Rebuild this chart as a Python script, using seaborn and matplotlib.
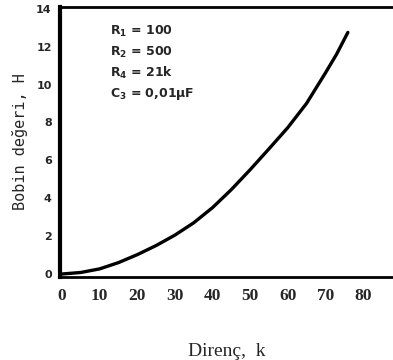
import matplotlib
matplotlib.use('Agg')
import matplotlib.pyplot as plt
import seaborn as sns
import pandas as pd

# values
resistance = [0, 5, 10, 15, 20, 25, 30, 35, 40, 45, 50, 55, 60, 65, 70, 73, 76]
inductance = [0.0, 0.08, 0.27, 0.6, 1.02, 1.5, 2.05, 2.7, 3.5, 4.45, 5.5,
              6.6, 7.72, 9.0, 10.6, 11.6, 12.75]
x_ticks = [0, 10, 20, 30, 40, 50, 60, 70, 80]
y_ticks = [0, 2, 4, 6, 8, 10, 12, 14]
params = ['R$_1$ = 100', 'R$_2$ = 500', 'R$_4$ = 21k', 'C$_3$ = 0,01$\\mu$F']

df = pd.DataFrame({'R': resistance, 'L': inductance})

sns.set_style('white')
plt.rcParams['font.family'] = ['DejaVu Sans']
plt.rcParams['mathtext.default'] = 'regular'

fig = plt.figure(figsize=(3.93, 3.6), dpi=100)
ax = fig.add_axes([0.153, 0.231, 0.847, 0.75])

sns.lineplot(data=df, x='R', y='L', color='black', linewidth=2.4, ax=ax)

ax.set_xlim(-0.5, 88)
ax.set_ylim(-0.15, 14.1)
ax.set_xticks(x_ticks)
ax.set_yticks(y_ticks)
ax.set_xticklabels([str(t) for t in x_ticks], family='Liberation Serif',
                   fontweight='bold', fontsize=12.5)
ax.set_yticklabels([str(t) for t in y_ticks], fontweight='bold', fontsize=8)
ax.tick_params(axis='both', direction='in', length=5, width=1.5, color='black')
ax.tick_params(axis='x', pad=8)
ax.tick_params(axis='y', pad=6)

for side in ['left', 'bottom', 'top']:
    ax.spines[side].set_color('black')
ax.spines['left'].set_linewidth(3)
ax.spines['bottom'].set_linewidth(2)
ax.spines['top'].set_linewidth(2)
ax.spines['right'].set_visible(False)

ax.set_ylabel('Bobin değeri, H', family='DejaVu Sans Mono', fontsize=11, labelpad=6)
ax.set_xlabel('Direnç,  k', family='Liberation Serif', fontsize=14, labelpad=28)

ax.text(0.15, 0.935, '\n'.join(params), transform=ax.transAxes, va='top',
        ha='left', fontsize=9, fontweight='bold', linespacing=1.45)

fig.savefig('out.png', dpi=100)
